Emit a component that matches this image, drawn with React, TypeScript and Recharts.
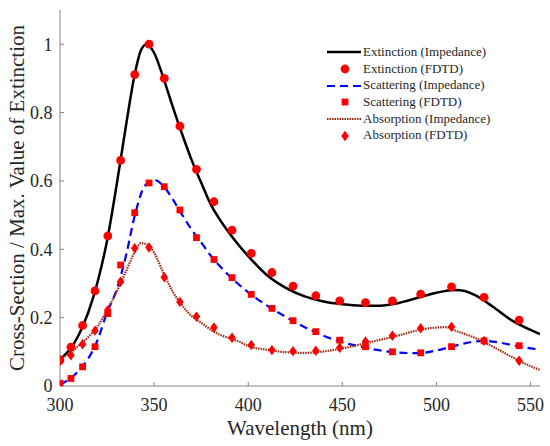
import React from "react";
import { ComposedChart, Line, Scatter, XAxis, YAxis } from "recharts";

// FDTD sample wavelengths (nm)
const fdtdWavelengths = [
  300, 305.8, 312, 318.6, 325.4, 332.2, 339.7, 347.3, 355.4, 363.7, 372.5, 381.8,
  391.4, 401.6, 412.6, 423.8, 435.9, 448.6, 462.3, 476.6, 491.6, 508, 525.3, 543.9,
];
const extinctionFdtd = [
  0.076, 0.114, 0.177, 0.278, 0.439, 0.66, 0.911, 1.0, 0.9, 0.76, 0.634, 0.539,
  0.456, 0.388, 0.332, 0.292, 0.264, 0.249, 0.244, 0.249, 0.269, 0.29, 0.259, 0.193,
];
const scatteringFdtd = [
  0.008, 0.022, 0.056, 0.115, 0.212, 0.354, 0.507, 0.594, 0.583, 0.515, 0.434, 0.37,
  0.317, 0.268, 0.227, 0.191, 0.159, 0.134, 0.115, 0.1, 0.097, 0.115, 0.132, 0.118,
];
const absorptionFdtd = [
  0.073, 0.09, 0.122, 0.162, 0.222, 0.305, 0.403, 0.405, 0.318, 0.246, 0.203, 0.171,
  0.141, 0.12, 0.105, 0.102, 0.103, 0.112, 0.13, 0.147, 0.169, 0.173, 0.132, 0.074,
];

// impedance model curves
const extinctionImpWl = [
  300, 305, 310, 315, 320, 325, 330, 335, 340, 343, 346, 350, 355, 360, 365, 370, 375,
  380, 385, 390, 395, 400, 410, 420, 430, 440, 450, 460, 470, 480, 490, 500, 510, 515,
  520, 530, 540, 550, 555,
];
const extinctionImp = [
  0.078, 0.105, 0.15, 0.215, 0.305, 0.425, 0.585, 0.76, 0.92, 0.982, 1.0, 0.975, 0.9,
  0.815, 0.735, 0.66, 0.595, 0.532, 0.486, 0.447, 0.412, 0.38, 0.324, 0.287, 0.262,
  0.247, 0.239, 0.235, 0.235, 0.243, 0.258, 0.273, 0.281, 0.278, 0.267, 0.232, 0.192,
  0.164, 0.152,
];
const scatteringImpWl = [
  300, 305, 310, 315, 320, 325, 330, 335, 340, 345, 350, 355, 360, 365, 370, 375, 380,
  385, 390, 395, 400, 410, 420, 430, 440, 450, 460, 470, 480, 490, 500, 510, 520, 525,
  530, 540, 550, 555,
];
const scatteringImp = [
  0.005, 0.02, 0.045, 0.08, 0.135, 0.215, 0.28, 0.38, 0.505, 0.585, 0.603, 0.585, 0.545,
  0.5, 0.457, 0.42, 0.382, 0.35, 0.322, 0.297, 0.274, 0.235, 0.202, 0.172, 0.147, 0.128,
  0.115, 0.104, 0.098, 0.096, 0.104, 0.118, 0.13, 0.132, 0.13, 0.12, 0.11, 0.107,
];
const absorptionImpWl = [
  300, 305, 310, 315, 320, 325, 330, 335, 340, 343, 346, 350, 355, 360, 365, 370, 375,
  380, 385, 390, 395, 400, 410, 420, 430, 440, 450, 460, 470, 480, 490, 500, 505, 510,
  520, 530, 540, 550, 555,
];
const absorptionImp = [
  0.081, 0.095, 0.118, 0.143, 0.175, 0.222, 0.275, 0.335, 0.395, 0.418, 0.415, 0.39,
  0.33, 0.275, 0.235, 0.204, 0.185, 0.165, 0.15, 0.14, 0.13, 0.117, 0.106, 0.099, 0.097,
  0.101, 0.11, 0.122, 0.135, 0.148, 0.163, 0.171, 0.172, 0.162, 0.142, 0.115, 0.085,
  0.058, 0.047,
];

const xTicks = [300, 350, 400, 450, 500, 550];
const yTicks = [0, 0.2, 0.4, 0.6, 0.8, 1];

const legendItems = [
  { label: "Extinction (Impedance)", kind: "solid" },
  { label: "Extinction (FDTD)", kind: "circle" },
  { label: "Scattering (Impedance)", kind: "dashed" },
  { label: "Scattering (FDTD)", kind: "square" },
  { label: "Absorption (Impedance)", kind: "dotted" },
  { label: "Absorption (FDTD)", kind: "diamond" },
];

const toPoints = (xs: number[], ys: number[]) => xs.map((x, i) => ({ x, y: ys[i] }));

const FONT = "Liberation Serif, Times New Roman, Tinos, DejaVu Serif, serif";
const AXIS = "#868686";
const TEXT = "#262626";
const RED = "#ff0000";
const BLUE = "#0000ff";
const BROWN = "#a0280f";

const Circle = (props: any) => <circle cx={props.cx} cy={props.cy} r={4.4} fill={RED} />;
const Square = (props: any) => (
  <rect x={props.cx - 3.4} y={props.cy - 3.4} width={6.8} height={6.8} fill={RED} />
);
const Diamond = (props: any) => {
  const { cx, cy } = props;
  return <polygon points={`${cx},${cy - 5.2} ${cx + 3.8},${cy} ${cx},${cy + 5.2} ${cx - 3.8},${cy}`} fill={RED} />;
};

function LegendSample({ kind }: { kind: string }) {
  return (
    <svg width={35} height={16} style={{ display: "block" }}>
      {kind === "solid" && <line x1={0} x2={34} y1={8} y2={8} stroke="#000" strokeWidth={2.5} />}
      {kind === "dashed" && (
        <line x1={0} x2={34} y1={8} y2={8} stroke={BLUE} strokeWidth={2.2} strokeDasharray="8 5" />
      )}
      {kind === "dotted" && (
        <line x1={0} x2={34} y1={8} y2={8} stroke={BROWN} strokeWidth={2.2} strokeDasharray="1.5 1" />
      )}
      {kind === "circle" && <Circle cx={18} cy={8} />}
      {kind === "square" && <Square cx={18} cy={8} />}
      {kind === "diamond" && <Diamond cx={18} cy={8} />}
    </svg>
  );
}

export default function App() {
  return (
    <div style={{ position: "absolute", left: 0, top: 0, width: 550, height: 446, background: "#fff", fontFamily: FONT }}>
      <ComposedChart width={550} height={446} margin={{ top: 10, right: 10, bottom: 0, left: 0 }}>
        <XAxis
          xAxisId={0}
          dataKey="x"
          type="number"
          domain={[300, 555]}
          ticks={xTicks}
          height={60}
          stroke={AXIS}
          tickSize={-4}
          tickMargin={16}
          tick={{ fill: TEXT, fontSize: 18, fontFamily: FONT }}
          allowDataOverflow
          label={{
            value: "Wavelength (nm)",
            position: "insideBottom",
            offset: 11,
            style: { fill: TEXT, fontSize: 21, fontFamily: FONT },
          }}
        />
        <XAxis
          xAxisId="top"
          orientation="top"
          type="number"
          domain={[300, 555]}
          ticks={xTicks}
          height={0}
          stroke={AXIS}
          tickSize={-4}
          tick={false}
          allowDataOverflow
        />
        <YAxis
          yAxisId={0}
          type="number"
          domain={[0, 1.1]}
          ticks={yTicks}
          width={60}
          stroke={AXIS}
          tickSize={-4}
          tickMargin={11.5}
          tick={{ fill: TEXT, fontSize: 18, fontFamily: FONT }}
          allowDataOverflow
          label={{
            value: "Cross-Section / Max. Value of Extinction",
            angle: -90,
            position: "insideLeft",
            offset: 16.5,
            style: { fill: TEXT, fontSize: 21, fontFamily: FONT, textAnchor: "middle" },
          }}
        />
        <YAxis
          yAxisId="right"
          orientation="right"
          type="number"
          domain={[0, 1.1]}
          ticks={yTicks}
          width={0}
          stroke={AXIS}
          tickSize={-4}
          tick={false}
          allowDataOverflow
        />
        <Line
          data={toPoints(extinctionImpWl, extinctionImp)}
          dataKey="y"
          type="monotone"
          stroke="#000"
          strokeWidth={2.5}
          dot={false}
          isAnimationActive={false}
        />
        <Line
          data={toPoints(scatteringImpWl, scatteringImp)}
          dataKey="y"
          type="monotone"
          stroke={BLUE}
          strokeWidth={2.2}
          strokeDasharray="8 5"
          dot={false}
          isAnimationActive={false}
        />
        <Line
          data={toPoints(absorptionImpWl, absorptionImp)}
          dataKey="y"
          type="monotone"
          stroke={BROWN}
          strokeWidth={2.2}
          strokeDasharray="1.5 1"
          dot={false}
          isAnimationActive={false}
        />
        <Scatter data={toPoints(fdtdWavelengths, extinctionFdtd)} dataKey="y" shape={Circle} isAnimationActive={false} />
        <Scatter data={toPoints(fdtdWavelengths, scatteringFdtd)} dataKey="y" shape={Square} isAnimationActive={false} />
        <Scatter data={toPoints(fdtdWavelengths, absorptionFdtd)} dataKey="y" shape={Diamond} isAnimationActive={false} />
      </ComposedChart>
      <div style={{ position: "absolute", left: 327, top: 44, fontSize: 13, color: TEXT, lineHeight: "16.7px" }}>
        {legendItems.map((item) => (
          <div key={item.label} style={{ display: "flex", alignItems: "center", height: 16.7 }}>
            <LegendSample kind={item.kind} />
            <span style={{ marginLeft: 1, whiteSpace: "nowrap" }}>{item.label}</span>
          </div>
        ))}
      </div>
    </div>
  );
}
